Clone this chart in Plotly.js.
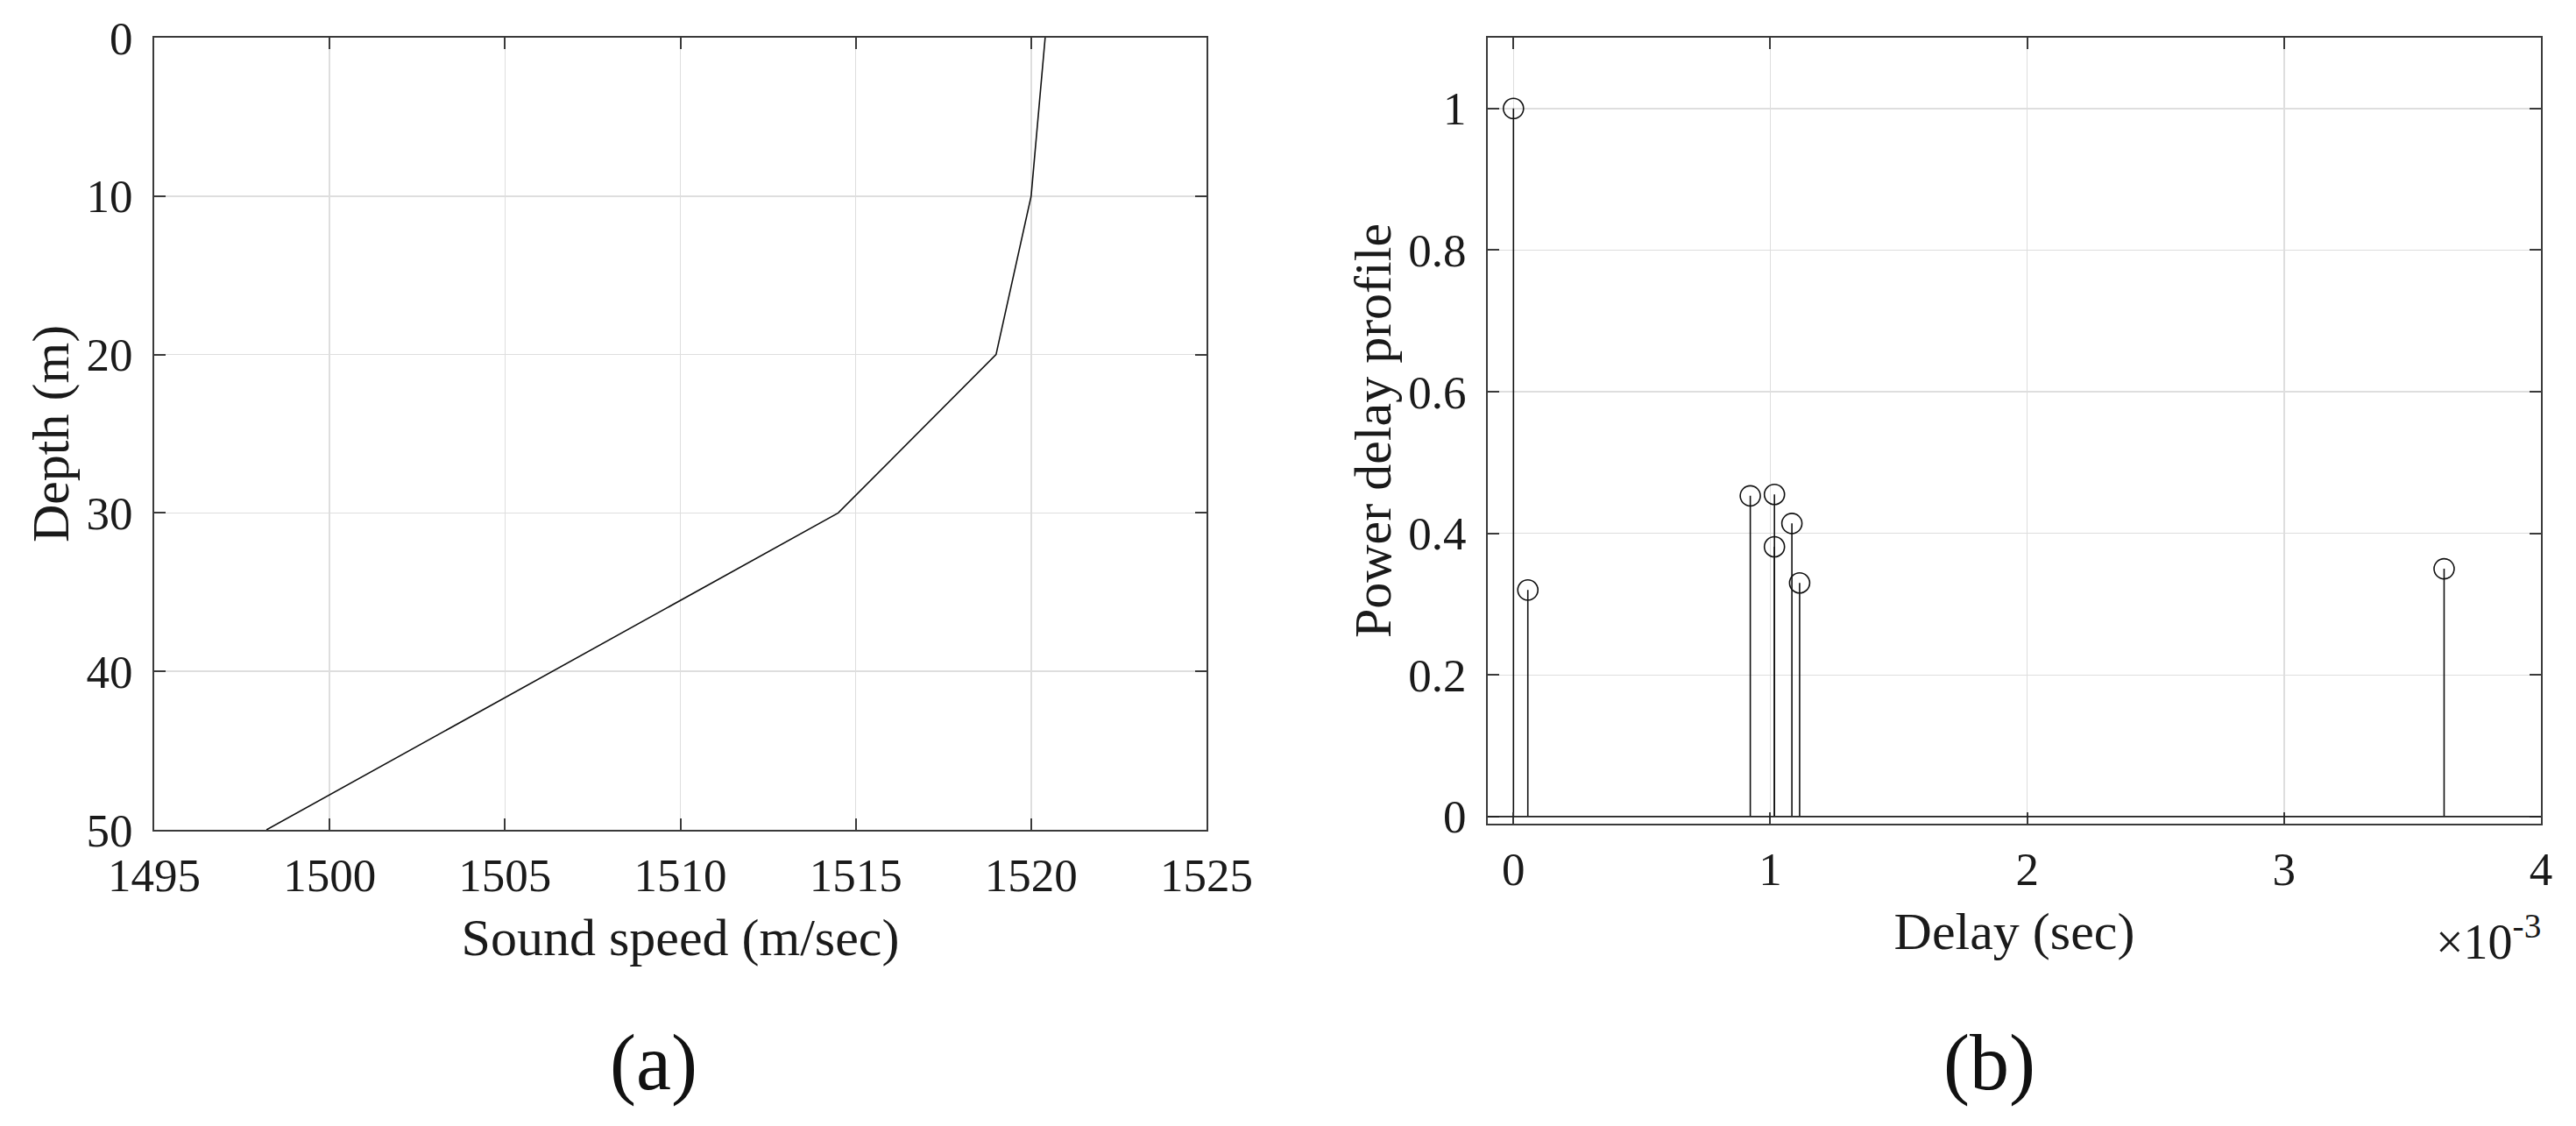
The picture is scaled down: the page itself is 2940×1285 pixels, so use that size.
<!DOCTYPE html>
<html>
<head>
<meta charset="utf-8">
<script src="https://cdn.plot.ly/plotly-3.0.1.min.js"></script>
<style>
  html, body { margin: 0; padding: 0; background: #fff; }
  #chart { width: 2940px; height: 1285px; }
</style>
</head>
<body>
<div id="chart"></div>
<script>
// ---- Data: (a) sound speed profile ----
const depthM = [0, 10, 20, 30, 50];
const soundSpeed = [1520.4, 1520.0, 1519.0, 1514.5, 1498.2];
const speedTicks = [1495, 1500, 1505, 1510, 1515, 1520, 1525];
const depthTicks = [0, 10, 20, 30, 40, 50];

// ---- Data: (b) power delay profile ----
const delaySec = [0, 0.000056, 0.000922, 0.001016, 0.001016, 0.001084, 0.001114, 0.003623];
const pdpValues = [1.0, 0.320, 0.453, 0.455, 0.381, 0.414, 0.330, 0.350];
const delayTickVals = [0, 0.001, 0.002, 0.003, 0.004];
const delayTickText = ['0', '1', '2', '3', '4'];
const pdpTicks = [0, 0.2, 0.4, 0.6, 0.8, 1];

const FONT = 'Liberation Serif, Times New Roman, serif';
const AX = '#3a3a3a';
const GRID = '#dedede';

const tickFont = {family: FONT, size: 53, color: '#1a1a1a'};
const titleFont = {family: FONT, size: 60, color: '#1a1a1a'};

function axisBase(extra) {
  return Object.assign({
    showline: true, linecolor: AX, linewidth: 2, mirror: 'ticks',
    ticks: 'inside', ticklen: 13, tickwidth: 2, tickcolor: AX,
    showgrid: true, gridcolor: GRID, gridwidth: 1.5,
    zeroline: false, tickfont: tickFont, automargin: false
  }, extra);
}

const traces = [
  {
    type: 'scatter', mode: 'lines', x: soundSpeed, y: depthM,
    xaxis: 'x', yaxis: 'y',
    line: {color: '#111', width: 1.6}, showlegend: false, hoverinfo: 'x+y'
  },
  {
    type: 'scatter', mode: 'markers', x: delaySec, y: pdpValues,
    xaxis: 'x2', yaxis: 'y2',
    marker: {symbol: 'circle-open', size: 23, color: '#111', line: {width: 1.6, color: '#111'}},
    error_y: {
      type: 'data', symmetric: false,
      array: pdpValues.map(() => 0), arrayminus: pdpValues,
      width: 0, thickness: 1.6, color: '#111'
    },
    showlegend: false
  }
];

const layout = {
  width: 2940, height: 1285,
  margin: {l: 0, r: 0, t: 0, b: 0},
  paper_bgcolor: '#fff', plot_bgcolor: '#fff',
  font: {family: FONT, color: '#1a1a1a'},
  showlegend: false,
  xaxis: axisBase({
    domain: [176 / 2940, 1377 / 2940], anchor: 'y',
    range: [1495, 1525], tickvals: speedTicks,
    ticklabelstandoff: 4,
    title: {text: 'Sound speed (m/sec)', font: titleFont, standoff: 21}
  }),
  yaxis: axisBase({
    domain: [1 - 947 / 1285, 1 - 43 / 1285], anchor: 'x',
    range: [50, 0], tickvals: depthTicks,
    ticklabelstandoff: 12,
    title: {text: 'Depth (m)', font: titleFont, standoff: 0}
  }),
  xaxis2: axisBase({
    domain: [1698 / 2940, 2900 / 2940], anchor: 'y2',
    range: [-0.0001, 0.004], tickvals: delayTickVals, ticktext: delayTickText,
    ticklabelstandoff: 4,
    title: {text: 'Delay (sec)', font: titleFont, standoff: 21}
  }),
  yaxis2: axisBase({
    domain: [1 - 940 / 1285, 1 - 43 / 1285], anchor: 'x2',
    range: [-0.01, 1.1], tickvals: pdpTicks, ticktext: pdpTicks.map(String),
    ticklabelstandoff: 12,
    title: {text: 'Power delay profile', font: titleFont, standoff: 0}
  }),
  shapes: [
    {type: 'line', xref: 'x2 domain', yref: 'y2', x0: 0, x1: 1, y0: 0, y1: 0,
     line: {color: '#222', width: 1.6}, layer: 'above'}
  ],
  annotations: [
    {text: '×10<sup>-3</sup>', xref: 'paper', yref: 'paper', x: 2902 / 2940, y: 1 - 1070 / 1285,
     xanchor: 'right', yanchor: 'middle', showarrow: false,
     font: {family: FONT, size: 56, color: '#1a1a1a'}},
    {text: '(a)', xref: 'paper', yref: 'paper', x: 746 / 2940, y: 1 - 1213 / 1285,
     xanchor: 'center', yanchor: 'middle', showarrow: false,
     font: {family: FONT, size: 90, color: '#111'}},
    {text: '(b)', xref: 'paper', yref: 'paper', x: 2270 / 2940, y: 1 - 1213 / 1285,
     xanchor: 'center', yanchor: 'middle', showarrow: false,
     font: {family: FONT, size: 90, color: '#111'}}
  ]
};

Plotly.newPlot('chart', traces, layout, {displayModeBar: false, staticPlot: true});
</script>
</body>
</html>
